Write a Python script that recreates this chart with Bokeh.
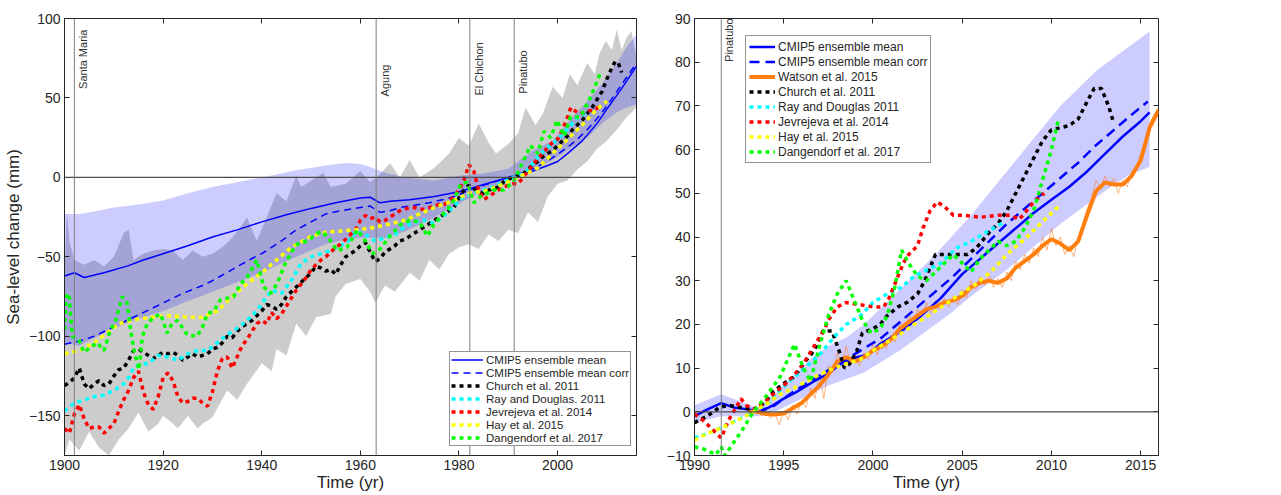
import numpy as np
from bokeh.plotting import figure
from bokeh.models import Range1d, LinearAxis, Span, Legend, LegendItem, FixedTicker, Label
from bokeh.layouts import row
from bokeh.embed import file_html
from bokeh.resources import INLINE

# ---------------- LEFT PANEL DATA (1900-2016) ----------------
left_xticks = [1900, 1920, 1940, 1960, 1980, 2000]
left_yticks = [-150, -100, -50, 0, 50, 100]
volcano_names = ["Santa Maria", "Agung", "El Chichon", "Pinatubo"]
volcano_years = [1902.0, 1963.2, 1982.2, 1991.2]
volcano_label_top = [93, 71, 85, 80]

cmip_mean_yr = [1900, 1902, 1904, 1908, 1913, 1916, 1920, 1925, 1930, 1935, 1940, 1945, 1950, 1955, 1960, 1962, 1964, 1966, 1970, 1975, 1980, 1985, 1990, 1995, 1998, 2000, 2002, 2005, 2008, 2010, 2013, 2016]
cmip_mean_val = [-62, -60, -63, -60, -55.5, -52, -48, -43, -37.5, -33, -28, -23.5, -19.5, -16, -13, -12.5, -16, -15, -14, -12, -9, -4.5, 0, 4, 7.5, 10, 15, 23, 34, 43, 56, 70]

cmip_corr_yr = [1900, 1903, 1906, 1910, 1914, 1918, 1920, 1924, 1928, 1930, 1934, 1938, 1940, 1944, 1947, 1950, 1953, 1956, 1960, 1962, 1964, 1966, 1968, 1970, 1974, 1978, 1980, 1982, 1984, 1986, 1988, 1990, 1992, 1994, 1996, 1998, 2000, 2002, 2004, 2006, 2008, 2010, 2012, 2014, 2016]
cmip_corr_val = [-105, -103, -100, -94, -88, -82, -79, -73, -68, -65, -58, -51, -48, -40, -33, -28, -23, -21, -19, -18, -22, -21, -19, -18, -16, -13, -11, -8, -6, -4, -2, 0, 2, 4, 7, 10.5, 14.5, 19, 24, 30, 37, 45, 54, 63, 72]

band_yr = [1900, 1903, 1906, 1910, 1915, 1920, 1925, 1930, 1935, 1940, 1947, 1953, 1957, 1960, 1962, 1965, 1969, 1975, 1980, 1985, 1990, 1995, 1999, 2003, 2006, 2009, 2012, 2014, 2016]
band_upper = [-23, -23, -21.5, -19, -17, -14.5, -10, -6, -3, 0, 4.5, 7.5, 9, 8.5, 6.5, 3, 0, -2, 1, 2.5, 5.5, 17, 23, 38, 48, 59, 72, 82, 90]
band_lower = [-104, -106, -101, -95, -89, -84, -78, -72, -66, -60, -50, -42, -39, -38, -38, -38, -34, -25, -16.5, -8, -2, 4, 11, 19, 25, 34, 41, 44, 46]

grey_up_yr = [1900, 1900.5, 1901, 1902, 1904, 1906, 1908, 1910, 1912, 1913, 1914, 1916, 1918, 1920, 1922, 1924, 1926, 1928, 1930, 1932, 1934, 1936, 1937, 1939, 1941, 1943, 1945, 1947, 1948, 1951, 1952.5, 1954, 1957, 1960, 1962, 1964, 1966, 1968, 1970, 1972, 1975, 1978, 1980, 1982, 1984, 1986, 1987.5, 1990, 1992, 1993.5, 1995.5, 1997, 1999, 2001, 2002.5, 2004, 2006, 2007.5, 2008.5, 2009.8, 2011, 2012, 2013, 2014, 2015, 2016]
grey_up_val = [-60, -22, -40, -52, -55, -52, -56, -50, -35, -33, -52, -48, -46, -45, -46, -52, -46, -50, -48, -44, -38, -30, -25, -40, -25, -10, -15, 1, -6, 0, 3, -6, -4, 4, -3, 2, 9, 0, 11, 0, 6, 15, 25, 20, 34, 22, 15, 21, 28, 44, 33, 40, 57, 50, 65, 58, 72, 65, 78, 86, 80, 93, 80, 88, 92, 75]
grey_lo_yr = [1900, 1901, 1903, 1905, 1907, 1909, 1911, 1913, 1915, 1917, 1919, 1920, 1922, 1923, 1925, 1927, 1928, 1930, 1933, 1935, 1937, 1940, 1942, 1943, 1945, 1947, 1949, 1951, 1954, 1955, 1957, 1960, 1962, 1963, 1965, 1967, 1970, 1972, 1974, 1976, 1978, 1980, 1982, 1984, 1986, 1988, 1990, 1992, 1994, 1996, 1998, 2000, 2002, 2004, 2006, 2008, 2010, 2012, 2014, 2016]
grey_lo_val = [-175, -165, -172, -160, -170, -175, -165, -158, -148, -160, -155, -150, -155, -158, -150, -158, -155, -151, -134, -140, -130, -117, -122, -108, -112, -92, -100, -88, -86, -75, -67, -64, -72, -79, -68, -72, -60, -65, -52, -58, -48, -44, -42, -45, -36, -40, -33, -35, -22, -28, -12, -4, -2, 5, 10, 18, 23, 30, 38, 44]

church_yr = [1900, 1901, 1902, 1903, 1904, 1905, 1906, 1907, 1908, 1909, 1910, 1911, 1912, 1913, 1914, 1915, 1916, 1917, 1918, 1919, 1920, 1921, 1922, 1923, 1924, 1925, 1926, 1927, 1928, 1929, 1930, 1931, 1932, 1933, 1934, 1935, 1936, 1937, 1938, 1939, 1940, 1941, 1942, 1943, 1944, 1945, 1946, 1947, 1948, 1949, 1950, 1951, 1952, 1953, 1954, 1955, 1956, 1957, 1958, 1959, 1960, 1961, 1962, 1963, 1964, 1965, 1966, 1967, 1968, 1969, 1970, 1971, 1972, 1973, 1974, 1975, 1976, 1977, 1978, 1979, 1980, 1981, 1982, 1983, 1984, 1985, 1986, 1987, 1988, 1989, 1990, 1991, 1992, 1993, 1994, 1995, 1996, 1997, 1998, 1999, 2000, 2001, 2002, 2003, 2004, 2005, 2006, 2007, 2008, 2009, 2010, 2011, 2011.7, 2012.3, 2013]
church_val = [-131, -129, -126, -120, -130, -133, -130, -128, -131, -130, -125, -121, -120, -115, -109, -108, -110, -112, -114, -112, -110, -111, -110, -112, -115, -113, -111, -113, -112, -111, -108, -107, -104, -100, -101, -97, -94, -92, -90, -87, -84, -80, -81, -83, -80, -75, -72, -69, -66, -63, -60, -56, -57, -59, -58, -61, -55, -50, -48, -46, -43, -41, -47, -53, -51, -47, -45, -43, -40, -39, -37, -35, -33, -31, -29, -27, -25, -23, -21, -19, -13, -8, -5, -7, -9, -10, -8, -7, -6, -3, -1, 0, 1, 2, 5, 8, 10, 13, 15, 17, 20, 23, 26, 30, 33, 36, 40, 44, 49, 54, 62, 69, 73, 72, 66]

ray_yr = [1900, 1902, 1904, 1906, 1908, 1910, 1912, 1913, 1914, 1915, 1917, 1919, 1921, 1923, 1925, 1927, 1929, 1931, 1933, 1935, 1937, 1939, 1941, 1942, 1944, 1946, 1948, 1950, 1952, 1954, 1956, 1958, 1959, 1961, 1963, 1965, 1967, 1969, 1971, 1973, 1975, 1977, 1979, 1981, 1983, 1985, 1987, 1989, 1991, 1993, 1994, 1996, 1998, 1999, 2001, 2003, 2004, 2006, 2007]
ray_val = [-147, -142, -140, -138, -137, -134, -130, -126, -120, -118, -117, -112, -113, -115, -111, -109, -109, -104, -99, -95, -90, -84, -75, -71, -73, -65, -54, -50, -48, -46, -43, -39, -34, -36, -40, -38, -36, -31, -28, -27, -29, -24, -18, -12, -10, -8, -6, -3, 0, 2, 5, 13, 19, 21, 27, 34, 38, 41, 42]

jev_yr = [1900, 1901, 1902, 1903, 1904, 1905, 1906, 1907, 1908, 1909, 1910, 1911, 1912, 1913, 1914, 1915, 1916, 1917, 1918, 1919, 1920, 1921, 1922, 1923, 1924, 1925, 1926, 1927, 1928, 1929, 1930, 1931, 1932, 1933, 1934, 1935, 1936, 1937, 1938, 1939, 1940, 1941, 1942, 1943, 1944, 1945, 1946, 1947, 1948, 1949, 1950, 1951, 1952, 1953, 1954, 1955, 1956, 1957, 1958, 1959, 1960, 1961, 1962, 1963, 1964, 1965, 1966, 1967, 1968, 1969, 1970, 1971, 1972, 1973, 1974, 1975, 1976, 1977, 1978, 1979, 1980, 1981, 1982, 1983, 1984, 1985, 1986, 1987, 1988, 1989, 1990, 1991, 1992, 1993, 1994, 1995, 1996, 1997, 1998, 1999, 2000, 2001, 2002, 2002.7, 2003.5, 2004.5, 2005.5, 2006.5, 2007.5, 2008.5]
jev_val = [-158, -161, -149, -143, -152, -158, -157, -157, -161, -158, -155, -147, -140, -134, -126, -122, -135, -143, -146, -138, -126, -123, -128, -138, -142, -141, -139, -139, -142, -144, -135, -122, -114, -113, -120, -113, -106, -102, -97, -92, -90, -92, -85, -89, -86, -81, -76, -71, -67, -63, -58, -55, -52, -50, -47, -44, -42, -39, -36, -33, -27, -24, -26, -25, -28, -27, -25, -23, -21, -20, -19, -19, -20, -20, -19, -18, -17, -17, -15, -12, -8, -2, 8, 4, -8, -14, -12, -10, -8, -6, -5, -4, -4, 0, 4, 8, 12, 15, 19, 22, 24, 30, 38, 44, 42, 40, 41, 42, 42, 45]

hay_yr = [1900, 1903, 1906, 1909, 1911, 1915, 1918, 1921, 1925, 1928, 1931, 1934, 1937, 1940, 1943, 1946, 1950, 1953, 1957, 1962, 1965, 1969, 1972, 1975, 1979, 1982, 1986, 1989, 1992, 1996, 1999, 2002, 2005, 2008, 2010]
hay_val = [-111, -109, -104, -97, -92, -89, -88, -87, -88, -88, -84, -75, -67, -60, -52, -44, -37, -34.5, -33.5, -32, -30, -27, -23, -19, -14.5, -10, -8, -4, 0, 6, 15, 24, 33, 43, 48]

dang_yr = [1900, 1900.3, 1900.9, 1901.6, 1902.9, 1903.9, 1905.3, 1906.6, 1908, 1909.3, 1910.3, 1911.7, 1912.7, 1913.4, 1914.1, 1915.1, 1915.8, 1916.8, 1918.1, 1919.5, 1920.8, 1921.8, 1922.9, 1924.9, 1926.9, 1928.3, 1928.9, 1930.3, 1931.6, 1934.3, 1935.7, 1937, 1939, 1940.4, 1941.8, 1943.1, 1944.5, 1945.8, 1947.2, 1949.2, 1951.9, 1953.3, 1955.3, 1957.3, 1959.4, 1961, 1962.5, 1964, 1966, 1968, 1970, 1972, 1973.6, 1975, 1977.7, 1979, 1980.4, 1981.7, 1983, 1984.4, 1987, 1989, 1991, 1993, 1994.5, 1996, 1997.2, 1998.6, 1999.9, 2001.3, 2002.6, 2004.6, 2006.6, 2008.6]
dang_val = [-96, -75, -73, -100, -102, -110, -107, -104, -109, -96, -91, -75, -79, -96, -109, -121, -100, -92, -88, -86, -98, -92, -90, -99, -100, -92, -86, -84, -77, -75, -67, -63, -52, -69, -73, -67, -56, -48, -42, -40, -34, -37, -46, -44, -33, -40, -48, -45, -37, -30, -27, -28, -37, -29, -20, -14, -4, -3, -16, -12, -8, -8, -3, 10, 20, 15, 29, 25, 36, 26, 38, 38, 50, 65]

# ---------------- RIGHT PANEL DATA (1990-2016) ----------------
right_xticks = [1990, 1995, 2000, 2005, 2010, 2015]
right_yticks = [-10, 0, 10, 20, 30, 40, 50, 60, 70, 80, 90]
pinatubo_year = 1991.5

r_mean_yr = [1990, 1990.7, 1991.5, 1992.2, 1993.1, 1993.7, 1994.4, 1995, 1995.7, 1996.7, 1997.4, 1998.2, 1999.1, 1999.7, 2000.4, 2001.6, 2002.7, 2003.8, 2005, 2006, 2007, 2008, 2009, 2010, 2011, 2012, 2013, 2014, 2015, 2015.5]
r_mean_val = [-1, 0.5, 2, 1, 0.5, 0, 1.5, 3, 4.5, 7, 8.5, 11, 12.5, 13, 15.5, 18.5, 22, 26, 31.5, 35, 38.5, 42, 45.5, 48.5, 51.5, 55, 59, 63, 66.5, 68.5]

r_corr_yr = [1993.5, 1994.5, 1995.5, 1996.5, 1997.5, 1998.5, 1999.5, 2000.5, 2001.5, 2002.5, 2003.5, 2004.5, 2005.5, 2006.5, 2007.5, 2008.5, 2009.5, 2010.5, 2011.5, 2012.5, 2013.5, 2014.5, 2015.4]
r_corr_val = [0, 1.5, 4.5, 7, 9.5, 12, 14.5, 17, 20.5, 24, 27.5, 31, 35, 39, 43, 46.5, 50, 53.5, 57, 61, 64.5, 68, 71]

r_band_yr = [1990, 1991.5, 1992.5, 1993.5, 1994.5, 1995.5, 1996.5, 1997.5, 1998.5, 1999.5, 2000.5, 2001.5, 2002.5, 2003.5, 2004.5, 2005.5, 2006.5, 2007.5, 2008.5, 2009.5, 2010.5, 2011.5, 2012.5, 2013.5, 2014.5, 2015.5]
r_band_upper = [1.5, 4, 2.5, 1, 4, 8, 12, 15, 17, 20, 24, 28, 32, 36, 40.5, 45, 50, 55, 60, 65, 70, 74, 78, 81, 84, 87]
r_band_lower = [-2.5, -1, -1, -1, 0, 2, 4, 6, 7.5, 9, 11.5, 14, 17, 20, 23, 26.5, 29.5, 32.5, 36, 39.5, 43, 46, 49, 52, 54.5, 56]

watson_yr = [1993.0, 1993.5, 1994.0, 1994.5, 1995.0, 1995.5, 1996.0, 1996.5, 1997.0, 1997.5, 1998.0, 1998.5, 1999.0, 1999.5, 2000.0, 2000.5, 2001.0, 2001.5, 2002.0, 2002.5, 2003.0, 2003.5, 2004.0, 2004.5, 2005.0, 2005.5, 2006.0, 2006.5, 2007.0, 2007.5, 2008.0, 2008.5, 2009.0, 2009.5, 2010.0, 2010.5, 2011.0, 2011.5, 2012.0, 2012.5, 2013.0, 2013.5, 2014.0, 2014.5, 2015.0, 2015.5, 2016.0]
watson_val = [0.0, 0.0, -0.5, -0.6, -0.4, 0.8, 2.0, 4.0, 6.0, 8.5, 11.5, 12.5, 11.5, 12.5, 14.0, 15.0, 16.5, 19.0, 20.5, 22.0, 23.5, 24.0, 25.0, 25.5, 26.5, 28.5, 29.5, 30.0, 29.5, 30.5, 33.0, 34.5, 36.0, 38.0, 39.5, 38.5, 37.0, 39.0, 45.0, 50.5, 52.5, 52.0, 52.0, 54.0, 57.5, 65.0, 69.0]
watson_raw_yr = list(np.arange(1993.0, 2016.01, 0.25))
watson_raw_val = [0.5, -0.5, 0.8, -1.0, 0.5, -1.5, -0.2, -3.0, 0.2, -1.8, 1.5, -0.5, 2.5, 1.0, 5.5, 3.0, 8.5, 3.0, 10.5, 9.0, 13.5, 11.0, 15.0, 11.0,
                  13.0, 10.5, 13.5, 12.0, 15.5, 13.0, 16.5, 14.5, 17.5, 16.0, 20.5, 18.5, 22.0, 20.0, 23.5, 22.0, 25.0, 22.5, 25.5, 23.5,
                  26.0, 24.0, 26.5, 24.5, 28.0, 26.0, 30.0, 28.0, 31.0, 29.0, 31.5, 28.5, 30.5, 28.5, 32.0, 30.0, 34.5, 32.5, 36.0, 34.0,
                  37.5, 35.5, 40.0, 37.0, 42.0, 38.0, 40.0, 36.0, 38.0, 35.5, 40.0, 43.0, 46.5, 49.0, 53.0, 51.0, 54.0, 51.5, 53.5, 50.0,
                  53.0, 51.5, 55.0, 56.0, 59.0, 61.0, 66.0, 68.0, 69.5]

r_church_yr = [1990, 1990.7, 1991.4, 1991.9, 1992.6, 1993.3, 1993.9, 1994.4, 1995, 1995.6, 1996.1, 1996.7, 1997.2, 1997.7, 1998.1, 1998.4, 1998.7, 1999.1, 1999.4, 2000, 2000.4, 2000.8, 2001.4, 2001.9, 2002.5, 2002.9, 2003.2, 2003.5, 2004.5, 2005.3, 2005.8, 2006.5, 2007, 2007.5, 2008, 2008.5, 2009, 2009.5, 2010, 2010.5, 2011, 2011.5, 2012, 2012.4, 2012.8, 2013.2, 2013.5]
r_church_val = [-2.5, -1, 1, 1.5, 1, 0.5, 2, 4.5, 6.5, 8, 11, 14, 18.5, 18.5, 14, 10, 11, 14, 18, 19, 20, 22, 24, 25, 27, 30, 33, 36, 36, 36, 37.5, 41, 43, 46, 50, 54, 58, 62, 64.5, 65, 65.5, 67, 71, 74, 74, 70, 66]

r_ray_yr = [1990, 1990.7, 1991.6, 1992.6, 1993.3, 1994.1, 1994.8, 1995.6, 1996.3, 1997, 1997.8, 1998.5, 1999.3, 2000, 2000.8, 2001.6, 2002.3, 2003.3, 2003.8, 2004.7, 2005.5, 2006.3, 2007.4]
r_ray_val = [-6, -5, -3.5, -1.5, 0, 2, 5, 8, 10.5, 13, 17, 20, 22, 25, 27, 28.5, 31, 33, 34, 37.5, 39, 41, 43.5]

r_jev_yr = [1990, 1990.5, 1991, 1991.5, 1991.9, 1992.4, 1992.6, 1992.9, 1993.3, 1993.9, 1994.4, 1995, 1995.6, 1996.1, 1996.7, 1997.3, 1997.5, 1998, 1998.5, 1999.3, 2000, 2000.6, 2000.9, 2001.3, 2001.7, 2002, 2002.5, 2002.8, 2003.2, 2003.6, 2004, 2004.5, 2005, 2006, 2007, 2007.7, 2008.2, 2008.6, 2009, 2009.6]
r_jev_val = [-0.5, -2, -4, -6, -2, 1.5, 3, 1.5, 0.5, 2, 4, 6, 8.5, 11, 15, 19, 21, 24, 25, 24.5, 24, 24, 26, 30, 34, 36, 38, 42, 46, 48, 47, 45, 45, 44.5, 45, 45, 44, 46, 48, 50]

r_hay_yr = [1990, 1990.7, 1991.6, 1992.6, 1993.3, 1994.1, 1994.8, 1995.6, 1996.3, 1997, 1997.8, 1998.5, 1999.3, 2000, 2000.8, 2001.6, 2002.3, 2003.3, 2004.2, 2004.9, 2005.7, 2006.6, 2007.5, 2008.5, 2009.5, 2010.4]
r_hay_val = [-6.5, -5, -3.5, -1.5, 0, 2, 4, 5.5, 7, 8.5, 10, 11, 12, 14, 16, 18, 20, 22.5, 25, 27, 29, 32, 36, 39.5, 43.5, 47]

r_dang_yr = [1990, 1990.5, 1991.2, 1991.5, 1991.7, 1992.2, 1992.7, 1993.3, 1994, 1994.8, 1995.6, 1996.1, 1996.5, 1997, 1997.5, 1998, 1998.5, 1999, 1999.4, 1999.9, 2000.4, 2000.8, 2001.2, 2001.6, 2002, 2002.5, 2003, 2003.5, 2004, 2004.5, 2005, 2005.5, 2006, 2006.5, 2007, 2007.5, 2008, 2008.5, 2009, 2009.5, 2010, 2010.4]
r_dang_val = [-8, -8.5, -9.8, -8, -10, -7, -4, 0, 3.5, 8, 15.5, 10, 7, 15, 22, 27, 30, 25, 21, 18, 19, 22, 28, 37, 34, 31, 30, 32, 34, 36, 34, 32, 35, 37, 39, 38, 39, 42, 46, 53, 60, 67]

# ---------------- STYLE ----------------
FONT = "Liberation Sans"
AX = "#262626"
DOT = "4 4"


def style_axes(p, xticks, yticks, xlabel, ylabel):
    xa = p.below[0]
    ya = p.left[0]
    for ax in (xa, ya):
        ax.major_tick_in = 5
        ax.major_tick_out = 0
        ax.minor_tick_line_color = None
        ax.axis_line_color = AX
        ax.major_tick_line_color = AX
        ax.major_label_text_font = FONT
        ax.major_label_text_font_size = "14px"
        ax.major_label_text_color = AX
        ax.axis_label_text_font = FONT
        ax.axis_label_text_font_style = "normal"
        ax.axis_label_text_font_size = "17px"
        ax.axis_label_text_color = AX
        ax.major_label_standoff = 4
        ax.axis_label_standoff = 0
    xa.ticker = FixedTicker(ticks=xticks)
    ya.ticker = FixedTicker(ticks=yticks)
    if xlabel:
        xa.axis_label = xlabel
    if ylabel:
        ya.axis_label = ylabel
        ya.axis_label_standoff = 3
    top = LinearAxis(ticker=FixedTicker(ticks=xticks),
                     major_label_overrides={t: "" for t in xticks},
                     axis_line_color=None, major_tick_in=5, major_tick_out=0,
                     minor_tick_line_color=None, major_tick_line_color=AX, major_label_standoff=0)
    right = LinearAxis(ticker=FixedTicker(ticks=yticks),
                       major_label_overrides={t: "" for t in yticks},
                       axis_line_color=None, major_tick_in=5, major_tick_out=0,
                       minor_tick_line_color=None, major_tick_line_color=AX, major_label_standoff=0)
    p.add_layout(top, "above")
    p.add_layout(right, "right")
    p.xgrid.visible = False
    p.ygrid.visible = False
    p.outline_line_color = AX
    p.outline_line_width = 1


# ---------------- LEFT FIGURE ----------------
p1 = figure(width=640, height=495, output_backend="svg", toolbar_location=None,
            x_range=Range1d(1900, 2016), y_range=Range1d(-175, 100),
            min_border_left=64, min_border_right=4, min_border_top=18, min_border_bottom=40)
style_axes(p1, left_xticks, left_yticks, "Time (yr)", "Sea-level change (mm)")

grey_x = list(grey_up_yr) + list(grey_lo_yr[::-1])
grey_y = list(grey_up_val) + list(grey_lo_val[::-1])
p1.patch(grey_x, grey_y, fill_color="black", fill_alpha=0.2, line_color=None)
p1.varea(x=band_yr, y1=band_lower, y2=band_upper, fill_color="blue", fill_alpha=0.2)

p1.add_layout(Span(location=0, dimension="width", line_color="#4d4d4d", line_width=1.2))
for name, yr, top_y in zip(volcano_names, volcano_years, volcano_label_top):
    p1.add_layout(Span(location=yr, dimension="height", line_color="#7f7f7f", line_width=1))
    p1.add_layout(Label(x=yr, y=top_y, text=name, angle=np.pi / 2, x_offset=3,
                        text_align="right", text_baseline="top", text_font=FONT,
                        text_font_size="11px", text_color="#333333"))

l_mean = p1.line(cmip_mean_yr, cmip_mean_val, line_color="blue", line_width=1.5)
l_corr = p1.line(cmip_corr_yr, cmip_corr_val, line_color="blue", line_width=1.5, line_dash="7 5")
l_ch = p1.line(church_yr, church_val, line_color="black", line_width=3.5, line_dash=DOT)
l_ray = p1.line(ray_yr, ray_val, line_color="#00ffff", line_width=3.5, line_dash=DOT)
l_jev = p1.line(jev_yr, jev_val, line_color="#ff0000", line_width=3.5, line_dash=DOT)
l_hay = p1.line(hay_yr, hay_val, line_color="#ffff00", line_width=3.5, line_dash=DOT)
l_dan = p1.line(dang_yr, dang_val, line_color="#00ff00", line_width=3.5, line_dash=DOT)

leg1 = Legend(items=[
    LegendItem(label="CMIP5 ensemble mean", renderers=[l_mean]),
    LegendItem(label="CMIP5 ensemble mean corr", renderers=[l_corr]),
    LegendItem(label="Church et al. 2011", renderers=[l_ch]),
    LegendItem(label="Ray and Douglas. 2011", renderers=[l_ray]),
    LegendItem(label="Jevrejeva et al. 2014", renderers=[l_jev]),
    LegendItem(label="Hay et al. 2015", renderers=[l_hay]),
    LegendItem(label="Dangendorf et al. 2017", renderers=[l_dan]),
], location=(385, 9), padding=1, spacing=0, margin=0, label_standoff=3,
    glyph_width=32, glyph_height=13, label_height=13,
    label_text_font=FONT, label_text_font_size="11.5px", label_text_color=AX,
    border_line_color=AX, background_fill_color="white", background_fill_alpha=1)
p1.add_layout(leg1, "center")

# ---------------- RIGHT FIGURE ----------------
p2 = figure(width=641, height=495, output_backend="svg", toolbar_location=None,
            x_range=Range1d(1990, 2016), y_range=Range1d(-10, 90),
            min_border_left=54, min_border_right=123, min_border_top=18, min_border_bottom=40)
style_axes(p2, right_xticks, right_yticks, "Time (yr)", None)

p2.varea(x=r_band_yr, y1=r_band_lower, y2=r_band_upper, fill_color="blue", fill_alpha=0.2)
p2.add_layout(Span(location=0, dimension="width", line_color="#4d4d4d", line_width=1.2))
p2.add_layout(Span(location=pinatubo_year, dimension="height", line_color="#7f7f7f", line_width=1))
p2.add_layout(Label(x=pinatubo_year, y=90, text="Pinatubo", angle=np.pi / 2, x_offset=2,
                    text_align="right", text_baseline="top", text_font=FONT,
                    text_font_size="11px", text_color="#333333"))

p2.line(watson_raw_yr, watson_raw_val, line_color="#ff7f2a", line_width=1, line_alpha=0.6)
r_mean = p2.line(r_mean_yr, r_mean_val, line_color="blue", line_width=2.5)
r_corr = p2.line(r_corr_yr, r_corr_val, line_color="blue", line_width=2.5, line_dash="10 6")
r_wat = p2.line(watson_yr, watson_val, line_color="#ff7f0e", line_width=4)
r_ch = p2.line(r_church_yr, r_church_val, line_color="black", line_width=3.5, line_dash=DOT)
r_ray = p2.line(r_ray_yr, r_ray_val, line_color="#00ffff", line_width=3.5, line_dash=DOT)
r_jev = p2.line(r_jev_yr, r_jev_val, line_color="#ff0000", line_width=3.5, line_dash=DOT)
r_hay = p2.line(r_hay_yr, r_hay_val, line_color="#ffff00", line_width=3.5, line_dash=DOT)
r_dan = p2.line(r_dang_yr, r_dang_val, line_color="#00ff00", line_width=3.5, line_dash=DOT)

leg2 = Legend(items=[
    LegendItem(label="CMIP5 ensemble mean", renderers=[r_mean]),
    LegendItem(label="CMIP5 ensemble mean corr", renderers=[r_corr]),
    LegendItem(label="Watson et al. 2015", renderers=[r_wat]),
    LegendItem(label="Church et al. 2011", renderers=[r_ch]),
    LegendItem(label="Ray and Douglas 2011", renderers=[r_ray]),
    LegendItem(label="Jevrejeva et al. 2014", renderers=[r_jev]),
    LegendItem(label="Hay et al. 2015", renderers=[r_hay]),
    LegendItem(label="Dangendorf et al. 2017", renderers=[r_dan]),
], location=(51, 292), padding=3, spacing=0, margin=0, label_standoff=3,
    glyph_width=26, glyph_height=15, label_height=15,
    label_text_font=FONT, label_text_font_size="12px", label_text_color=AX,
    border_line_color=AX, background_fill_color="white", background_fill_alpha=1)
p2.add_layout(leg2, "center")

layout = row(p1, p2)
open("out.html", "w").write(file_html(layout, INLINE))
